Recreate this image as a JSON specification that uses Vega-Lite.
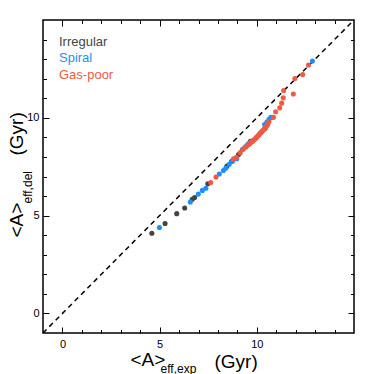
{
  "$schema": "https://vega.github.io/schema/vega-lite/v6.json",
  "width": 311,
  "height": 313,
  "autosize": {"type": "none"},
  "padding": {"left": 43, "top": 20, "right": 20, "bottom": 41},
  "background": "white",
  "config": {
    "view": {"stroke": "#000", "strokeWidth": 1.5},
    "axis": {"grid": false, "domain": false, "labelFont": "Liberation Sans", "titleFont": "Liberation Sans", "titleFontWeight": "normal", "titleColor": "#000", "labelColor": "#000", "tickColor": "#000", "tickWidth": 1}
  },
  "datasets": {
    "pts": [
      {"x": 4.60, "y": 4.10, "type": "Irregular"},
      {"x": 5.28, "y": 4.60, "type": "Irregular"},
      {"x": 5.88, "y": 5.10, "type": "Irregular"},
      {"x": 6.29, "y": 5.39, "type": "Irregular"},
      {"x": 6.68, "y": 5.84, "type": "Irregular"},
      {"x": 6.80, "y": 5.93, "type": "Irregular"},
      {"x": 7.48, "y": 6.63, "type": "Irregular"},
      {"x": 8.46, "y": 7.53, "type": "Irregular"},
      {"x": 8.71, "y": 7.78, "type": "Irregular"},
      {"x": 9.06, "y": 8.12, "type": "Irregular"},
      {"x": 9.67, "y": 8.80, "type": "Irregular"},
      {"x": 10.42, "y": 9.46, "type": "Irregular"},
      {"x": 4.99, "y": 4.39, "type": "Spiral"},
      {"x": 6.58, "y": 5.70, "type": "Spiral"},
      {"x": 6.99, "y": 6.10, "type": "Spiral"},
      {"x": 7.20, "y": 6.29, "type": "Spiral"},
      {"x": 7.38, "y": 6.40, "type": "Spiral"},
      {"x": 8.07, "y": 7.13, "type": "Spiral"},
      {"x": 8.28, "y": 7.31, "type": "Spiral"},
      {"x": 8.40, "y": 7.42, "type": "Spiral"},
      {"x": 8.58, "y": 7.63, "type": "Spiral"},
      {"x": 8.75, "y": 7.78, "type": "Spiral"},
      {"x": 8.97, "y": 7.91, "type": "Spiral"},
      {"x": 9.26, "y": 8.38, "type": "Spiral"},
      {"x": 9.47, "y": 8.57, "type": "Spiral"},
      {"x": 9.56, "y": 8.66, "type": "Spiral"},
      {"x": 9.64, "y": 8.73, "type": "Spiral"},
      {"x": 9.79, "y": 8.83, "type": "Spiral"},
      {"x": 10.40, "y": 9.66, "type": "Spiral"},
      {"x": 10.52, "y": 9.78, "type": "Spiral"},
      {"x": 10.63, "y": 9.93, "type": "Spiral"},
      {"x": 10.72, "y": 10.02, "type": "Spiral"},
      {"x": 10.84, "y": 10.03, "type": "Spiral"},
      {"x": 12.86, "y": 12.90, "type": "Spiral"},
      {"x": 7.63, "y": 6.69, "type": "Gas-poor"},
      {"x": 7.90, "y": 6.97, "type": "Gas-poor"},
      {"x": 8.80, "y": 7.90, "type": "Gas-poor"},
      {"x": 8.95, "y": 7.98, "type": "Gas-poor"},
      {"x": 9.15, "y": 8.22, "type": "Gas-poor"},
      {"x": 9.30, "y": 8.40, "type": "Gas-poor"},
      {"x": 9.38, "y": 8.48, "type": "Gas-poor"},
      {"x": 9.45, "y": 8.52, "type": "Gas-poor"},
      {"x": 9.52, "y": 8.60, "type": "Gas-poor"},
      {"x": 9.58, "y": 8.64, "type": "Gas-poor"},
      {"x": 9.66, "y": 8.70, "type": "Gas-poor"},
      {"x": 9.72, "y": 8.76, "type": "Gas-poor"},
      {"x": 9.78, "y": 8.80, "type": "Gas-poor"},
      {"x": 9.84, "y": 8.86, "type": "Gas-poor"},
      {"x": 9.90, "y": 8.92, "type": "Gas-poor"},
      {"x": 9.95, "y": 8.96, "type": "Gas-poor"},
      {"x": 10.00, "y": 9.02, "type": "Gas-poor"},
      {"x": 10.05, "y": 9.07, "type": "Gas-poor"},
      {"x": 10.10, "y": 9.12, "type": "Gas-poor"},
      {"x": 10.14, "y": 9.17, "type": "Gas-poor"},
      {"x": 10.18, "y": 9.22, "type": "Gas-poor"},
      {"x": 10.22, "y": 9.26, "type": "Gas-poor"},
      {"x": 10.27, "y": 9.30, "type": "Gas-poor"},
      {"x": 10.32, "y": 9.36, "type": "Gas-poor"},
      {"x": 10.36, "y": 9.40, "type": "Gas-poor"},
      {"x": 10.45, "y": 9.50, "type": "Gas-poor"},
      {"x": 10.50, "y": 9.57, "type": "Gas-poor"},
      {"x": 10.56, "y": 9.66, "type": "Gas-poor"},
      {"x": 10.62, "y": 9.80, "type": "Gas-poor"},
      {"x": 10.85, "y": 10.03, "type": "Gas-poor"},
      {"x": 10.97, "y": 10.31, "type": "Gas-poor"},
      {"x": 11.18, "y": 10.51, "type": "Gas-poor"},
      {"x": 11.28, "y": 10.75, "type": "Gas-poor"},
      {"x": 11.36, "y": 11.02, "type": "Gas-poor"},
      {"x": 11.38, "y": 11.40, "type": "Gas-poor"},
      {"x": 11.88, "y": 11.22, "type": "Gas-poor"},
      {"x": 11.96, "y": 12.01, "type": "Gas-poor"},
      {"x": 12.36, "y": 12.21, "type": "Gas-poor"},
      {"x": 12.66, "y": 12.70, "type": "Gas-poor"}
    ],
    "diag": [
      {"x": -1, "y": -1},
      {"x": 15, "y": 15}
    ]
  },
  "resolve": {
    "scale": {"x": "independent", "y": "independent"},
    "axis": {"x": "independent", "y": "independent"}
  },
  "layer": [
    {
      "data": {"name": "diag"},
      "mark": {"type": "line", "color": "#000", "strokeWidth": 1.5, "strokeDash": [5, 4], "clip": true},
      "encoding": {
        "x": {"field": "x", "type": "quantitative",
          "scale": {"domain": [-1, 15], "nice": false, "zero": false},
          "axis": {"orient": "top", "values": [0, 5, 10], "tickSize": -6, "labels": false,
            "title": "(Gyr)", "titleX": 171, "titleY": 347, "titleAlign": "left", "titleBaseline": "alphabetic", "titleFontSize": 19}},
        "y": {"field": "y", "type": "quantitative",
          "scale": {"domain": [-1, 15], "nice": false, "zero": false},
          "axis": {"orient": "right", "values": [0, 5, 10], "tickSize": -6, "labels": false,
            "title": "(Gyr)", "titleX": -332, "titleY": 135, "titleAngle": -90, "titleAlign": "left", "titleBaseline": "alphabetic", "titleFontSize": 19}}
      }
    },
    {
      "data": {"name": "diag"},
      "mark": {"type": "point", "opacity": 0},
      "encoding": {
        "x": {"field": "x", "type": "quantitative",
          "scale": {"domain": [-1, 15], "nice": false, "zero": false},
          "axis": {"orient": "bottom", "values": [1, 2, 3, 4, 6, 7, 8, 9, 11, 12, 13, 14], "tickSize": -3.5, "labels": false,
            "title": "eff,exp", "titleX": 117, "titleY": 39, "titleAlign": "left", "titleBaseline": "alphabetic", "titleFontSize": 12}},
        "y": {"field": "y", "type": "quantitative",
          "scale": {"domain": [-1, 15], "nice": false, "zero": false},
          "axis": {"orient": "left", "values": [1, 2, 3, 4, 6, 7, 8, 9, 11, 12, 13, 14], "tickSize": -3.5, "labels": false,
            "title": "eff,del", "titleX": -12, "titleY": 183, "titleAngle": -90, "titleAlign": "left", "titleBaseline": "alphabetic", "titleFontSize": 12}}
      }
    },
    {
      "data": {"name": "diag"},
      "mark": {"type": "point", "opacity": 0},
      "encoding": {
        "x": {"field": "x", "type": "quantitative",
          "scale": {"domain": [-1, 15], "nice": false, "zero": false},
          "axis": {"orient": "top", "values": [1, 2, 3, 4, 6, 7, 8, 9, 11, 12, 13, 14], "tickSize": -3.5, "labels": false, "title": null}},
        "y": {"field": "y", "type": "quantitative",
          "scale": {"domain": [-1, 15], "nice": false, "zero": false},
          "axis": {"orient": "right", "values": [1, 2, 3, 4, 6, 7, 8, 9, 11, 12, 13, 14], "tickSize": -3.5, "labels": false, "title": null}}
      }
    },
    {
      "data": {"name": "pts"},
      "mark": {"type": "circle", "size": 26, "opacity": 1},
      "encoding": {
        "x": {"field": "x", "type": "quantitative",
          "scale": {"domain": [-1, 15], "nice": false, "zero": false},
          "axis": {"orient": "bottom", "values": [0, 5, 10], "tickSize": -6, "labelPadding": 11, "labelFontSize": 11,
            "title": "<A>", "titleX": 87, "titleY": 32, "titleAlign": "left", "titleBaseline": "alphabetic", "titleFontSize": 19}},
        "y": {"field": "y", "type": "quantitative",
          "scale": {"domain": [-1, 15], "nice": false, "zero": false},
          "axis": {"orient": "left", "values": [0, 5, 10], "tickSize": -6, "labelPadding": 10, "labelFontSize": 11,
            "title": "<A>", "titleX": -21, "titleY": 217, "titleAngle": -90, "titleAlign": "left", "titleBaseline": "alphabetic", "titleFontSize": 19}},
        "color": {"field": "type", "type": "nominal",
          "scale": {"domain": ["Irregular", "Spiral", "Gas-poor"], "range": ["#444444", "#1f8ff5", "#ef5a43"]},
          "legend": {"orient": "none", "legendX": 3, "legendY": 15, "title": null, "symbolSize": 0, "symbolOpacity": 0, "symbolStrokeWidth": 0,
            "labelOffset": 0, "padding": 0, "rowPadding": 2.5, "labelFontSize": 13, "labelFont": "Liberation Sans",
            "encode": {"labels": {"update": {"fill": {"scale": "color", "field": "value"}}}}}}
      }
    }
  ]
}
